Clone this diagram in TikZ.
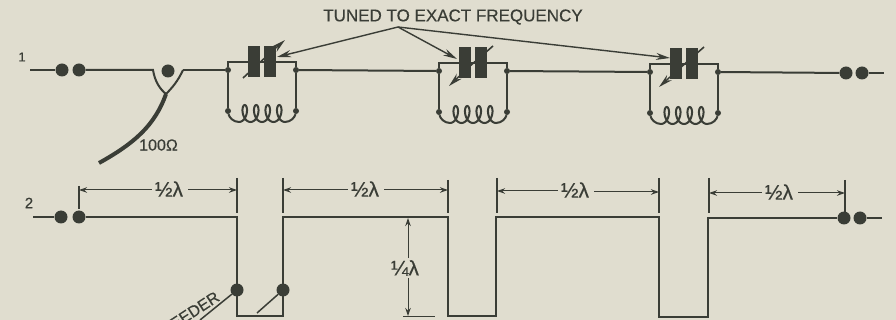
\documentclass[tikz,border=0pt]{standalone}
\usepackage{fontspec}
\setmainfont[FakeBold=0.35]{Liberation Sans}
\usetikzlibrary{arrows.meta}
\definecolor{paper}{HTML}{E0DDCF}
\definecolor{ink}{HTML}{3A3D36}
\tikzset{
  wire/.style={draw=ink,line width=2pt,line join=miter},
  thinwire/.style={draw=ink,line width=1.5pt},
  dimline/.style={draw=ink,line width=1pt},
  dimtip/.style={dimline,-{Stealth[length=8pt,width=5.5pt]}},
  tick/.style={draw=ink,line width=1.4pt},
  bigdot/.style={circle,fill=ink,inner sep=0pt,minimum size=13pt},
  joint/.style={circle,fill=ink,inner sep=0pt,minimum size=6pt},
  plate/.style={rectangle,fill=ink,inner sep=0pt,minimum width=12pt,minimum height=31pt},
  pointer/.style={draw=ink,line width=1.4pt,-{Stealth[length=14pt,width=7pt]}},
  varcap/.style={draw=ink,line width=1.6pt},
  caption/.style={text=ink,font=\fontsize{17}{19}\selectfont,inner sep=0pt},
  frac/.style={text=ink,font=\fontsize{21}{23}\selectfont,inner sep=0pt},
  small/.style={text=ink,font=\fontsize{16}{18}\selectfont,inner sep=0pt}
}
\newcommand{\tankcircuit}[3]{%
  \begin{scope}[shift={(#2,#3)}]
    \node[joint] (#1ml) at (0,0) {};
    \node[joint] (#1mr) at (68,0) {};
    \node[joint] (#1bl) at (0,41) {};
    \node[joint] (#1br) at (68,41) {};
    \node[plate] (#1pa) at (25.5,-8) {};
    \node[plate] (#1pb) at (41.5,-8) {};
    \draw[wire] (#1ml) -- (0,-7.5) -- (68,-7.5) -- (#1mr);
    \draw[wire] (#1ml) -- (#1bl);
    \draw[wire] (#1mr) -- (#1br);
    \draw[wire] (#1bl) .. controls (1,47) and (5,52) .. (11,52)
      plot[domain=0:1440,samples=161,smooth] ({11+1.83*\x*pi/180+4.8*sin(\x)},{43.5+8.5*cos(\x)})
      .. controls (63,52) and (67,47) .. (#1br);
  \end{scope}}
\begin{document}
\begin{tikzpicture}[x=1pt,y=-1pt]
\useasboundingbox (0,0) rectangle (896,320);
\fill[paper] (0,0) rectangle (896,320);
\clip (0,0) rectangle (896,320);

% --- row 1 ---
\node[small,font=\fontsize{13}{15}\selectfont] (one) at (22,57) {1};
\coordinate (a0) at (30,70);
\node[bigdot] (a1) at (62,70) {};
\node[bigdot] (a2) at (79,70) {};
\node[bigdot] (a3) at (168,71) {};
\coordinate (yl) at (153,70);
\coordinate (yr) at (183,70);
\coordinate (yb) at (166,94);
\coordinate (res) at (99,163);
\draw[wire] (a0) -- (a1);
\draw[wire] (a2) -- (yl) .. controls (155,82) and (160,89) .. (yb);
\draw[wire] (yr) .. controls (178,81) and (172,88) .. (yb);
\draw[draw=ink,line width=4pt] (yb) .. controls (155,125) and (135,143) .. (res);
\node[small,anchor=west] (ohm) at (139,145) {100Ω};

\tankcircuit{t}{228}{70}
\tankcircuit{u}{439}{71}
\tankcircuit{v}{650}{72}

\draw[wire] (yr) -- (tml);
\draw[wire] (tmr) -- (uml);
\draw[wire] (umr) -- (vml);
\node[bigdot] (b1) at (846,73) {};
\node[bigdot] (b2) at (862,73) {};
\coordinate (b3) at (884,73);
\draw[wire] (vmr) -- (b1);
\draw[wire] (b2) -- (b3);

% variable-capacitor arrows
\coordinate (c1a) at (243,78); \coordinate (c1b) at (285,40);
\draw[varcap] (c1a) -- (268,55);
\draw[pointer] (270,53) -- (c1b);
\coordinate (c2a) at (449,86); \coordinate (c2b) at (493,46);
\draw[varcap] (c2b) -- (470,66);
\draw[pointer] (470,66) -- (c2a);
\coordinate (c3a) at (659,87); \coordinate (c3b) at (704,47);
\draw[varcap] (c3b) -- (680,68);
\draw[pointer] (680,68) -- (c3a);

% caption and pointers
\node[caption] (cap) at (453,17) {TUNED TO EXACT FREQUENCY};
\coordinate (apex) at (398,27);
\coordinate (p1) at (277,57);
\coordinate (p2) at (457,59);
\coordinate (p3) at (670,58);
\draw[pointer] (apex) -- (p1);
\draw[pointer] (apex) -- (p2);
\draw[pointer] (apex) -- (p3);

% --- row 2 ---
\node[small,font=\fontsize{15}{17}\selectfont] (two) at (29,203) {2};
\coordinate (d0) at (33,217);
\node[bigdot] (d1) at (61,217) {};
\node[bigdot] (d2) at (79,217) {};
\node[bigdot] (e1) at (844,218) {};
\node[bigdot] (e2) at (860,218) {};
\coordinate (e3) at (882,218);
\draw[wire] (d0) -- (d1);
\draw[wire] (e2) -- (e3);
\draw[wire,line width=2.2pt] (d2) -- (237,217) -- (237,316) -- (283,316) -- (283,217)
  -- (448,217) -- (448,316) -- (496,316) -- (496,217)
  -- (659,217) -- (659,317) -- (708,317) -- (708,218) -- (e1);

% half-wave dimensions
\coordinate (k1t) at (79,186); \coordinate (k1b) at (79,209);
\coordinate (k2t) at (237,178); \coordinate (k2b) at (237,213);
\coordinate (k3t) at (283,178); \coordinate (k3b) at (283,213);
\coordinate (k4t) at (448,180); \coordinate (k4b) at (448,213);
\coordinate (k5t) at (497,178); \coordinate (k5b) at (497,213);
\coordinate (k6t) at (659,178); \coordinate (k6b) at (659,213);
\coordinate (k7t) at (709,178); \coordinate (k7b) at (709,213);
\coordinate (k8t) at (845,180); \coordinate (k8b) at (845,217);
\foreach \n in {1,...,8} \draw[tick] (k\n t) -- (k\n b);
\coordinate (m1a) at (79,190); \coordinate (m1b) at (237,190);
\coordinate (m2a) at (283,190); \coordinate (m2b) at (448,190);
\coordinate (m3a) at (497,191); \coordinate (m3b) at (659,192);
\coordinate (m4a) at (709,193); \coordinate (m4b) at (845,193);
\node[frac] (h1) at (169,189) {½λ};
\node[frac] (h2) at (365,189) {½λ};
\node[frac] (h3) at (575,190) {½λ};
\node[frac] (h4) at (779,192) {½λ};
\draw[dimtip] (h1.west) ++(-3,1) -- (m1a);
\draw[dimtip] (h1.east) ++(5,1) -- (m1b);
\draw[dimtip] (h2.west) ++(-3,1) -- (m2a);
\draw[dimtip] (h2.east) ++(5,1) -- (m2b);
\draw[dimtip] (h3.west) ++(-3,1) -- (m3a);
\draw[dimtip] (h3.east) ++(5,2) -- (m3b);
\draw[dimtip] (h4.west) ++(-3,1) -- (m4a);
\draw[dimtip] (h4.east) ++(5,1) -- (m4b);

% quarter-wave dimension
\node[frac,inner sep=2pt] (q) at (405,268) {¼λ};
\coordinate (qt) at (408,218);
\coordinate (qb) at (408,316);
\draw[dimtip] (q.north -| qt) -- (qt);
\draw[dimtip] (q.south -| qt) -- (qb);
\coordinate (qr) at (435,316);
\coordinate (ql) at (403,316);
\draw[dimline] (ql) -- (qr);

% feeder
\node[bigdot] (f1) at (237,290) {};
\node[bigdot] (f2) at (283,290) {};
\coordinate (g1) at (200,320);
\coordinate (g2) at (257,313);
\draw[thinwire] (f1) -- (g1);
\draw[thinwire] (f2) -- (g2);
\node[small,rotate=33,anchor=south east] (fd) at (221,300) {FEEDER};
\end{tikzpicture}
\end{document}
